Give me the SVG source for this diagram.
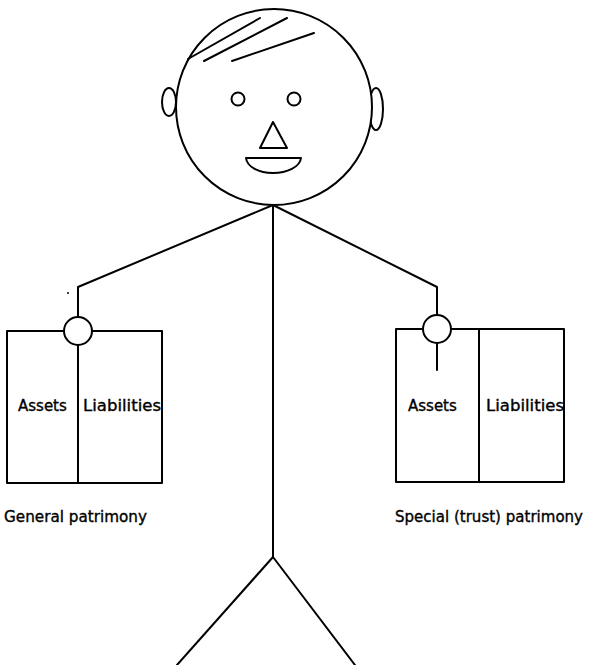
<svg xmlns="http://www.w3.org/2000/svg" width="591" height="665" viewBox="0 0 591 665">
<style>
.ln{fill:none;stroke:#000;stroke-width:2;stroke-linecap:round;stroke-linejoin:round}
.sh{fill:#fff;stroke:#000;stroke-width:2}
.tx{font-family:"DejaVu Sans","Liberation Sans",sans-serif;font-size:15px;fill:#000;stroke:#000;stroke-width:0.35}
</style>
<rect width="591" height="665" fill="#fff"/>
<g id="connectors">
<polyline class="ln" points="78,317 78,287 273,205 437,287 437,316"/>
<polyline class="ln" points="273,205 273,557"/>
<polyline class="ln" points="177,665 273,557 355,665"/>
<circle cx="68" cy="293" r="1" fill="#000"/>
</g>
<g id="person">
<ellipse class="sh" cx="169" cy="102" rx="7" ry="14"/>
<ellipse class="sh" cx="376" cy="109" rx="7" ry="21"/>
<circle class="sh" cx="274" cy="107" r="98"/>
<line class="ln" x1="188" y1="59" x2="260" y2="18"/>
<line class="ln" x1="204" y1="61" x2="287" y2="18"/>
<line class="ln" x1="232" y1="61" x2="314" y2="33"/>
<circle class="sh" cx="238" cy="99" r="6.5"/>
<circle class="sh" cx="294" cy="99" r="6.5"/>
<polygon class="ln" points="273,122 260,148 287,148"/>
<path class="ln" d="M246,158 L301,158 C300,167 287,173 273,173 C259,173 247,167 246,158 Z"/>
</g>
<g id="general-patrimony">
<rect class="ln" x="7" y="331" width="155" height="152"/>
<line class="ln" x1="78" y1="345" x2="78" y2="483"/>
<circle class="sh" cx="78" cy="331" r="14"/>
<text class="tx" x="18" y="411">Assets</text>
<text class="tx" x="83" y="411" textLength="78" lengthAdjust="spacingAndGlyphs">Liabilities</text>
<text class="tx" x="4" y="522" textLength="143" lengthAdjust="spacingAndGlyphs">General patrimony</text>
</g>
<g id="special-patrimony">
<rect class="ln" x="396" y="329" width="168" height="153"/>
<line class="ln" x1="479" y1="329" x2="479" y2="482"/>
<circle class="sh" cx="437" cy="329" r="14"/>
<line class="ln" x1="437" y1="343" x2="437" y2="370"/>
<text class="tx" x="408" y="411">Assets</text>
<text class="tx" x="486" y="411" textLength="78" lengthAdjust="spacingAndGlyphs">Liabilities</text>
<text class="tx" x="395" y="522" textLength="188" lengthAdjust="spacingAndGlyphs">Special (trust) patrimony</text>
</g>
</svg>
